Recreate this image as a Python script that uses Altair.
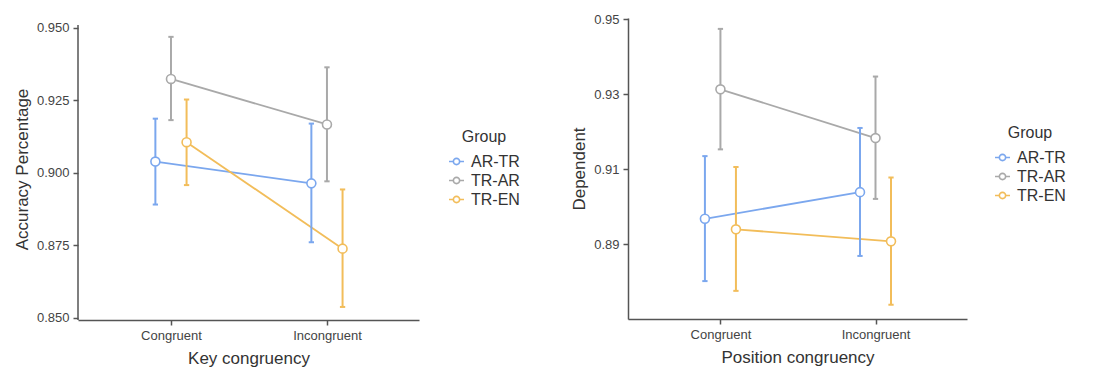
import altair as alt
import pandas as pd

groups = ["AR-TR", "TR-AR", "TR-EN"]
conditions = ["Congruent", "Incongruent"]
group_colors = ["#7BA7EE", "#A9A9A9", "#F2BD5A"]

# Left panel: Key congruency (order: groups x conditions)
key_mean = [0.9039, 0.8964, 0.9324, 0.9167, 0.9106, 0.8739]
key_lo = [0.8891, 0.8761, 0.9182, 0.8971, 0.8958, 0.8538]
key_hi = [0.9187, 0.9170, 0.9469, 0.9364, 0.9253, 0.8943]
key_ticks = [0.85, 0.875, 0.9, 0.925, 0.95]
key_axis_span = [0.8493, 0.951]      # extent of the drawn y axis line
key_domain = [0.8493, 0.9534]

# Right panel: Position congruency
pos_mean = [0.8968, 0.9039, 0.9313, 0.9183, 0.8940, 0.8908]
pos_lo = [0.8802, 0.8869, 0.9153, 0.9021, 0.8776, 0.8739]
pos_hi = [0.9135, 0.9210, 0.9474, 0.9347, 0.9106, 0.9078]
pos_ticks = [0.89, 0.91, 0.93, 0.95]
pos_domain = [0.8701, 0.9503]

dodge = {"AR-TR": -0.1, "TR-AR": 0.0, "TR-EN": 0.1}
x_domain = [0.404, 2.59]
CAP = 0.017  # half width of error bar caps, in x units


def make_df(mean, lo, hi):
    rows = []
    i = 0
    for g in groups:
        for ci, c in enumerate(conditions):
            rows.append({"Group": g, "cond": c, "xpos": ci + 1 + dodge[g],
                         "mean": mean[i], "lo": lo[i], "hi": hi[i]})
            i += 1
    return pd.DataFrame(rows)


FONT = "Liberation Sans"
AXIS_COLOR = "#555"
legend_symbol = "M-1,0 L-0.42,0 M0.42,0 L1,0 M-0.42,0 A0.42,0.42 0 1,1 0.42,0 A0.42,0.42 0 1,1 -0.42,0"


def panel(df, xtitle, ytitle, ydomain, yticks, yfmt, width, height, lx, ly, axis_span=None):
    scale_c = alt.Scale(domain=groups, range=group_colors)
    color = alt.Color("Group:N", scale=scale_c,
                      legend=alt.Legend(title="Group", orient="none", legendX=lx,
                                        legendY=ly, symbolType=legend_symbol,
                                        symbolSize=225, symbolStrokeWidth=1.6,
                                        symbolFillColor="white",
                                        titleFontSize=16, labelFontSize=16,
                                        titleFont=FONT, labelFont=FONT,
                                        titleFontWeight="normal", titleColor="#333",
                                        labelColor="#333", rowPadding=2,
                                        titleAnchor="middle", titlePadding=8,
                                        labelOffset=6))
    xscale = alt.Scale(domain=x_domain, nice=False, zero=False)
    x = alt.X("xpos:Q", scale=xscale,
              axis=alt.Axis(title=xtitle, values=[1, 2], orient="bottom",
                            labelExpr="datum.value == 1 ? 'Congruent' : 'Incongruent'",
                            grid=False, labelFontSize=13, titleFontSize=17,
                            labelFont=FONT, titleFont=FONT, titleFontWeight="normal",
                            labelColor="#444", titleColor="#333", domainColor=AXIS_COLOR,
                            tickColor=AXIS_COLOR, domainWidth=1.5, tickWidth=1.5,
                            tickSize=5, labelPadding=4, titlePadding=8))
    y_axis = alt.Axis(title=ytitle, values=yticks, format=yfmt, grid=False,
                      domain=axis_span is None,
                      labelFontSize=13, titleFontSize=17, labelFont=FONT, titleFont=FONT,
                      titleFontWeight="normal", labelColor="#444", titleColor="#333",
                      domainColor=AXIS_COLOR, tickColor=AXIS_COLOR, domainWidth=1.5,
                      tickWidth=1.5, tickSize=5, labelPadding=4, titlePadding=5)
    yscale = alt.Scale(domain=ydomain, nice=False, zero=False)
    base = alt.Chart(df).transform_calculate(
        cap_l=f"datum.xpos - {CAP}", cap_r=f"datum.xpos + {CAP}")
    line = base.mark_line(strokeWidth=1.8).encode(
        x=x, y=alt.Y("mean:Q", scale=yscale, axis=y_axis), color=color,
        detail="Group:N")
    rule = base.mark_rule(strokeWidth=2).encode(
        x=x, y=alt.Y("lo:Q", scale=yscale), y2="hi:Q", color=color)
    cap_lo = base.mark_rule(strokeWidth=2).encode(
        x=alt.X("cap_l:Q", scale=xscale), x2="cap_r:Q",
        y=alt.Y("lo:Q", scale=yscale), color=color)
    cap_hi = base.mark_rule(strokeWidth=2).encode(
        x=alt.X("cap_l:Q", scale=xscale), x2="cap_r:Q",
        y=alt.Y("hi:Q", scale=yscale), color=color)
    pts = base.mark_point(filled=False, size=80, strokeWidth=1.6, fill="white",
                          fillOpacity=1, opacity=1).encode(
        x=x, y=alt.Y("mean:Q", scale=yscale), color=color)
    layers = [line, rule, cap_lo, cap_hi, pts]
    if axis_span is not None:
        dom = alt.Chart(pd.DataFrame({"lo": [axis_span[0]], "hi": [axis_span[1]]})).mark_rule(
            color=AXIS_COLOR, strokeWidth=1.5).encode(
            x=alt.datum(x_domain[0], scale=xscale),
            y=alt.Y("lo:Q", scale=yscale), y2="hi:Q")
        layers.insert(0, dom)
    return alt.layer(*layers).properties(width=width, height=height)


left = panel(make_df(key_mean, key_lo, key_hi), "Key congruency", "Accuracy Percentage",
             key_domain, key_ticks, ".3f", 341, 302, 370, 111, key_axis_span)
right = panel(make_df(pos_mean, pos_lo, pos_hi), "Position congruency", "Dependent",
              pos_domain, pos_ticks, ".2f", 339, 301, 366, 107)

chart = alt.hconcat(left, right, spacing=50).resolve_scale(
    color="independent").configure(
    background="white").configure_view(stroke=None)

chart.save("out.html", embed_options={"renderer": "svg", "actions": False})
